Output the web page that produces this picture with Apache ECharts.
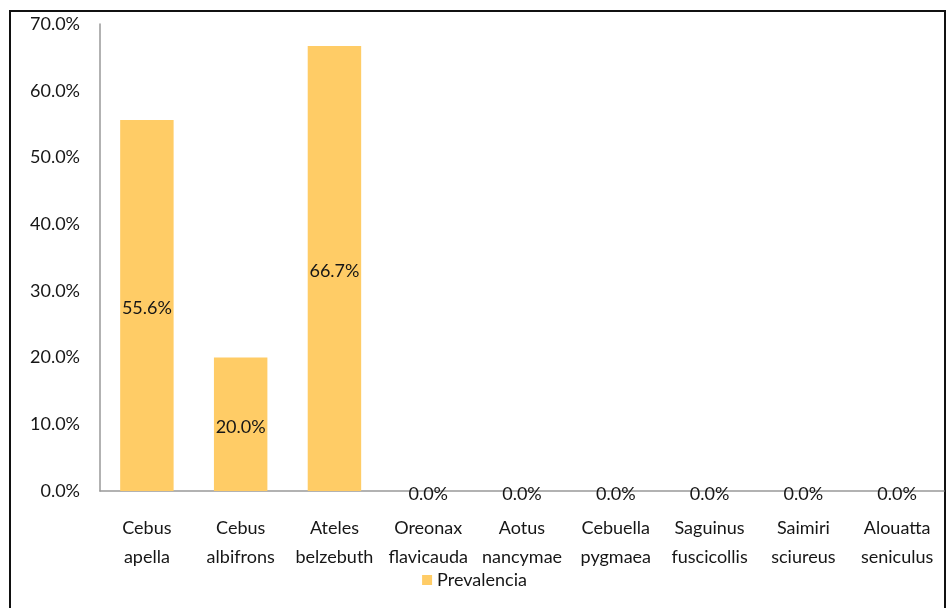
<!DOCTYPE html>
<html>
<head>
<meta charset="utf-8">
<script src="https://cdn.jsdelivr.net/npm/echarts@6/dist/echarts.min.js"></script>
<style>
  html, body { margin: 0; padding: 0; background: #fff; }
  #chart { width: 949px; height: 608px; }
</style>
</head>
<body>
<div id="chart"></div>
<script>
// Species sampled
const species = [
  'Cebus\napella', 'Cebus\nalbifrons', 'Ateles\nbelzebuth', 'Oreonax\nflavicauda',
  'Aotus\nnancymae', 'Cebuella\npygmaea', 'Saguinus\nfuscicollis', 'Saimiri\nsciureus',
  'Alouatta\nseniculus'
];
// Prevalence per species (%)
const prevalencia = [55.6, 20.0, 66.7, 0.0, 0.0, 0.0, 0.0, 0.0, 0.0];
// Value axis ticks (%)
const yTicks = [0, 10, 20, 30, 40, 50, 60, 70];

const FONT = 'Lato, "Open Sans", sans-serif';
const TEXT = '#161616';
const chart = echarts.init(document.getElementById('chart'));
chart.setOption({
  animation: false,
  textStyle: { fontFamily: FONT },
  graphic: [{
    type: 'rect',
    shape: { x: 10, y: 11, width: 935, height: 640 },
    style: { fill: 'none', stroke: '#111', lineWidth: 2 },
    silent: true
  }],
  grid: { left: 100, right: 5, top: 24, bottom: 117 },
  legend: {
    bottom: 14,
    left: 'center',
    itemWidth: 10,
    itemHeight: 10,
    itemGap: 6,
    icon: 'rect',
    textStyle: { fontFamily: FONT, fontSize: 18, color: TEXT },
    data: ['Prevalencia']
  },
  xAxis: {
    type: 'category',
    data: species,
    axisLine: { lineStyle: { color: '#999', width: 1.5 } },
    axisTick: { show: false },
    axisLabel: {
      interval: 0,
      margin: 23,
      fontSize: 18,
      lineHeight: 29,
      color: TEXT,
      fontFamily: FONT
    }
  },
  yAxis: {
    type: 'value',
    min: yTicks[0],
    max: yTicks[yTicks.length - 1],
    interval: 10,
    splitLine: { show: false },
    axisLine: { show: true, lineStyle: { color: '#999', width: 1.5 } },
    axisTick: { show: false },
    axisLabel: {
      margin: 20,
      fontSize: 18,
      color: TEXT,
      fontFamily: FONT,
      formatter: v => v.toFixed(1) + '%'
    }
  },
  series: [{
    name: 'Prevalencia',
    type: 'bar',
    data: prevalencia,
    barWidth: '57%',
    itemStyle: { color: '#FFCC66' },
    label: {
      show: true,
      position: 'inside',
      offset: [0, 3],
      fontSize: 18,
      color: TEXT,
      fontFamily: FONT,
      formatter: p => p.value.toFixed(1) + '%'
    }
  }]
});
</script>
</body>
</html>
